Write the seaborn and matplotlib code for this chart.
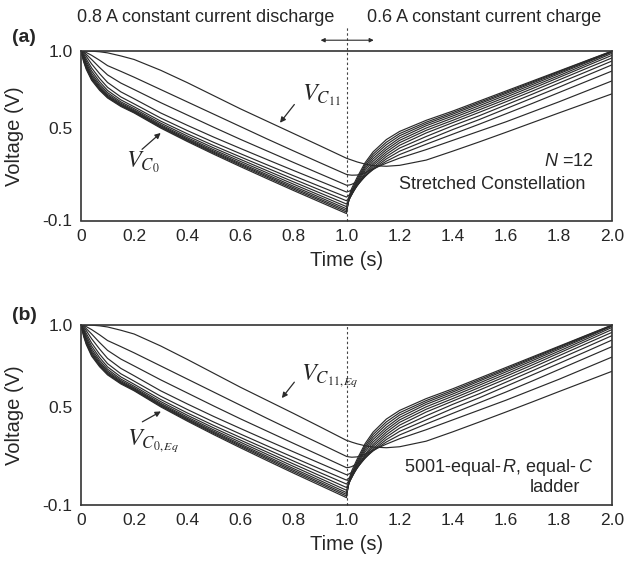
import matplotlib
matplotlib.use("Agg")
import matplotlib.pyplot as plt
import seaborn as sns
import pandas as pd

# ---------------- data ----------------
time_s = [0, 0.01, 0.02, 0.04, 0.07, 0.1, 0.15, 0.2, 0.3, 0.4, 0.5, 0.6, 0.7, 0.8, 0.9, 1.0,
          1.01, 1.02, 1.04, 1.07, 1.1, 1.15, 1.2, 1.3, 1.4, 1.5, 1.6, 1.7, 1.8, 1.9, 2.0]

# panel (a): stretched constellation, N = 12
a_c0 = [1.0, 0.93, 0.88, 0.81, 0.745, 0.695, 0.64, 0.598, 0.5, 0.413, 0.33, 0.25, 0.172, 0.095, 0.02, -0.055,
        0.06, 0.11, 0.18, 0.275, 0.345, 0.425, 0.478, 0.55, 0.61, 0.675, 0.74, 0.805, 0.87, 0.935, 1.0]
a_c1 = [1.0, 0.936, 0.887, 0.817, 0.751, 0.7, 0.645, 0.602, 0.505, 0.419, 0.337, 0.258, 0.181, 0.104, 0.03, -0.045,
        0.048, 0.095, 0.168, 0.262, 0.33, 0.408, 0.464, 0.538, 0.6, 0.666, 0.732, 0.799, 0.866, 0.933, 0.998]
a_c2 = [1.0, 0.942, 0.894, 0.824, 0.757, 0.705, 0.649, 0.606, 0.51, 0.424, 0.343, 0.265, 0.189, 0.113, 0.039, -0.035,
        0.04, 0.085, 0.158, 0.25, 0.315, 0.392, 0.45, 0.527, 0.59, 0.657, 0.724, 0.792, 0.86, 0.928, 0.996]
a_c3 = [1.0, 0.948, 0.901, 0.832, 0.764, 0.711, 0.654, 0.611, 0.515, 0.43, 0.35, 0.273, 0.198, 0.123, 0.05, -0.024,
        0.035, 0.075, 0.148, 0.238, 0.3, 0.375, 0.435, 0.515, 0.578, 0.645, 0.713, 0.782, 0.852, 0.922, 0.993]
a_c4 = [1.0, 0.955, 0.91, 0.842, 0.773, 0.719, 0.661, 0.617, 0.522, 0.438, 0.359, 0.284, 0.21, 0.136, 0.063, -0.01,
        0.035, 0.07, 0.14, 0.225, 0.285, 0.36, 0.42, 0.5, 0.565, 0.632, 0.7, 0.77, 0.84, 0.912, 0.985]
a_c5 = [1.0, 0.963, 0.921, 0.855, 0.785, 0.73, 0.67, 0.626, 0.532, 0.449, 0.371, 0.297, 0.224, 0.151, 0.079, 0.007,
        0.04, 0.068, 0.13, 0.21, 0.27, 0.345, 0.405, 0.485, 0.55, 0.618, 0.686, 0.756, 0.828, 0.9, 0.972]
a_c6 = [1.0, 0.971, 0.934, 0.871, 0.801, 0.744, 0.683, 0.638, 0.545, 0.463, 0.386, 0.313, 0.241, 0.169, 0.098, 0.028,
        0.05, 0.072, 0.125, 0.2, 0.258, 0.33, 0.388, 0.468, 0.535, 0.602, 0.67, 0.74, 0.812, 0.884, 0.955]
a_c7 = [1.0, 0.979, 0.948, 0.89, 0.822, 0.764, 0.702, 0.657, 0.565, 0.484, 0.407, 0.334, 0.262, 0.191, 0.121, 0.052,
        0.065, 0.08, 0.125, 0.19, 0.245, 0.315, 0.37, 0.445, 0.515, 0.58, 0.65, 0.72, 0.792, 0.863, 0.935]
a_c8 = [1.0, 0.988, 0.965, 0.916, 0.853, 0.796, 0.735, 0.69, 0.598, 0.518, 0.441, 0.368, 0.296, 0.225, 0.155, 0.085,
        0.09, 0.1, 0.13, 0.185, 0.235, 0.3, 0.35, 0.42, 0.49, 0.555, 0.625, 0.695, 0.765, 0.838, 0.91]
a_c9 = [1.0, 0.994, 0.978, 0.945, 0.893, 0.845, 0.792, 0.75, 0.665, 0.585, 0.505, 0.427, 0.352, 0.277, 0.203, 0.129,
        0.13, 0.135, 0.152, 0.19, 0.23, 0.285, 0.328, 0.395, 0.46, 0.525, 0.592, 0.66, 0.73, 0.8, 0.87]
a_c10 = [1.0, 0.998, 0.99, 0.972, 0.94, 0.905, 0.868, 0.83, 0.75, 0.67, 0.59, 0.51, 0.43, 0.352, 0.275, 0.199,
         0.196, 0.194, 0.195, 0.21, 0.235, 0.272, 0.305, 0.36, 0.42, 0.48, 0.54, 0.605, 0.67, 0.738, 0.806]
a_c11 = [1.0, 1.0, 1.0, 0.999, 0.995, 0.988, 0.968, 0.945, 0.875, 0.795, 0.71, 0.625, 0.545, 0.465, 0.385, 0.304,
         0.298, 0.292, 0.28, 0.266, 0.256, 0.252, 0.258, 0.292, 0.35, 0.41, 0.472, 0.535, 0.598, 0.66, 0.722]

# panel (b): 5001-equal-R, equal-C ladder (equivalent node voltages)
b_c0 = [1.0, 0.93, 0.88, 0.81, 0.745, 0.695, 0.64, 0.598, 0.5, 0.413, 0.33, 0.25, 0.172, 0.095, 0.02, -0.055,
        0.06, 0.11, 0.18, 0.275, 0.345, 0.425, 0.478, 0.55, 0.61, 0.675, 0.74, 0.805, 0.87, 0.935, 1.0]
b_c1 = [1.0, 0.936, 0.887, 0.817, 0.751, 0.7, 0.645, 0.602, 0.505, 0.419, 0.337, 0.258, 0.181, 0.104, 0.03, -0.045,
        0.048, 0.095, 0.168, 0.262, 0.33, 0.408, 0.464, 0.538, 0.6, 0.666, 0.732, 0.799, 0.866, 0.933, 0.998]
b_c2 = [1.0, 0.942, 0.894, 0.824, 0.757, 0.705, 0.649, 0.606, 0.51, 0.424, 0.343, 0.265, 0.189, 0.113, 0.039, -0.035,
        0.04, 0.085, 0.158, 0.25, 0.315, 0.392, 0.45, 0.527, 0.59, 0.657, 0.724, 0.792, 0.86, 0.928, 0.996]
b_c3 = [1.0, 0.948, 0.901, 0.832, 0.764, 0.711, 0.654, 0.611, 0.515, 0.43, 0.35, 0.273, 0.198, 0.123, 0.05, -0.024,
        0.035, 0.075, 0.148, 0.238, 0.3, 0.375, 0.435, 0.515, 0.578, 0.645, 0.713, 0.782, 0.852, 0.922, 0.993]
b_c4 = [1.0, 0.955, 0.91, 0.842, 0.773, 0.719, 0.661, 0.617, 0.522, 0.438, 0.359, 0.284, 0.21, 0.136, 0.063, -0.01,
        0.035, 0.07, 0.14, 0.225, 0.285, 0.36, 0.42, 0.5, 0.565, 0.632, 0.7, 0.77, 0.84, 0.912, 0.985]
b_c5 = [1.0, 0.963, 0.921, 0.855, 0.785, 0.73, 0.67, 0.626, 0.532, 0.449, 0.371, 0.297, 0.224, 0.151, 0.079, 0.007,
        0.04, 0.068, 0.13, 0.21, 0.27, 0.345, 0.405, 0.485, 0.55, 0.618, 0.686, 0.756, 0.828, 0.9, 0.972]
b_c6 = [1.0, 0.971, 0.934, 0.871, 0.801, 0.744, 0.683, 0.638, 0.545, 0.463, 0.386, 0.313, 0.241, 0.169, 0.098, 0.028,
        0.05, 0.072, 0.125, 0.2, 0.258, 0.33, 0.388, 0.468, 0.535, 0.602, 0.67, 0.74, 0.812, 0.884, 0.955]
b_c7 = [1.0, 0.979, 0.948, 0.89, 0.822, 0.764, 0.702, 0.657, 0.565, 0.484, 0.407, 0.334, 0.262, 0.191, 0.121, 0.052,
        0.065, 0.08, 0.125, 0.19, 0.245, 0.315, 0.37, 0.445, 0.515, 0.58, 0.65, 0.72, 0.792, 0.863, 0.935]
b_c8 = [1.0, 0.988, 0.965, 0.916, 0.853, 0.796, 0.735, 0.69, 0.598, 0.518, 0.441, 0.368, 0.296, 0.225, 0.155, 0.085,
        0.09, 0.1, 0.13, 0.185, 0.235, 0.3, 0.35, 0.42, 0.49, 0.555, 0.625, 0.695, 0.765, 0.836, 0.908]
b_c9 = [1.0, 0.994, 0.978, 0.945, 0.893, 0.845, 0.792, 0.75, 0.665, 0.585, 0.505, 0.427, 0.352, 0.277, 0.203, 0.128,
        0.13, 0.135, 0.152, 0.19, 0.23, 0.285, 0.328, 0.395, 0.46, 0.525, 0.59, 0.658, 0.728, 0.798, 0.868]
b_c10 = [1.0, 0.998, 0.99, 0.972, 0.94, 0.905, 0.868, 0.83, 0.75, 0.67, 0.59, 0.51, 0.43, 0.352, 0.275, 0.197,
         0.194, 0.192, 0.194, 0.21, 0.235, 0.272, 0.305, 0.36, 0.42, 0.48, 0.54, 0.604, 0.668, 0.736, 0.804]
b_c11 = [1.0, 1.0, 1.0, 0.999, 0.995, 0.988, 0.968, 0.945, 0.872, 0.79, 0.705, 0.62, 0.54, 0.46, 0.378, 0.295,
         0.29, 0.284, 0.274, 0.262, 0.254, 0.25, 0.256, 0.29, 0.347, 0.407, 0.468, 0.53, 0.593, 0.655, 0.717]

node_names = [f"C{i}" for i in range(12)]
panel_a = [a_c0, a_c1, a_c2, a_c3, a_c4, a_c5, a_c6, a_c7, a_c8, a_c9, a_c10, a_c11]
panel_b = [b_c0, b_c1, b_c2, b_c3, b_c4, b_c5, b_c6, b_c7, b_c8, b_c9, b_c10, b_c11]

x_ticks = [0, 0.2, 0.4, 0.6, 0.8, 1.0, 1.2, 1.4, 1.6, 1.8, 2.0]
x_tick_labels = ["0", "0.2", "0.4", "0.6", "0.8", "1.0", "1.2", "1.4", "1.6", "1.8", "2.0"]
x_minor = [0.1, 0.3, 0.5, 0.7, 0.9, 1.1, 1.3, 1.5, 1.7, 1.9]
y_ticks = [-0.1, 0.5, 1.0]
y_tick_labels = ["-0.1", "0.5", "1.0"]

# ---------------- style ----------------
sns.set_theme(style="white")
plt.rcParams["font.family"] = ["Liberation Sans", "DejaVu Sans"]
plt.rcParams["mathtext.fontset"] = "custom"
plt.rcParams["mathtext.it"] = "Liberation Sans:italic"
plt.rcParams["mathtext.rm"] = "Liberation Sans"

LINE = "#2a2a2a"
AXC = "#333333"
TXT = "#262626"

W, H = 629, 564
fig = plt.figure(figsize=(W / 100, H / 100), dpi=100)
fig.patch.set_facecolor("white")
ax_a = fig.add_axes([81 / W, 1 - 220.5 / H, 531 / W, 169.5 / H])
ax_b = fig.add_axes([81 / W, 1 - 505 / H, 531 / W, 180 / H])


def draw_panel(ax, curves, top_ext):
    rows = []
    for name, vals in zip(node_names, curves):
        for t, v in zip(time_s, vals):
            rows.append({"time": t, "voltage": v, "node": name})
    df = pd.DataFrame(rows)
    sns.lineplot(data=df, x="time", y="voltage", hue="node",
                 palette={n: LINE for n in node_names}, estimator=None,
                 sort=False, legend=False, linewidth=0.85, ax=ax)
    ax.set_xlim(0, 2.0)
    ax.set_ylim(-0.1, 1.0)
    ax.set_xticks(x_ticks)
    ax.set_xticklabels(x_tick_labels)
    ax.set_xticks(x_minor, minor=True)
    ax.set_yticks(y_ticks)
    ax.set_yticklabels(y_tick_labels)
    ax.tick_params(axis="both", which="major", direction="out", length=4, width=1,
                   color=AXC, labelsize=12.5, labelcolor=TXT, pad=2)
    ax.tick_params(axis="x", which="minor", direction="out", length=3, width=1, color=AXC)
    for sp in ax.spines.values():
        sp.set_visible(True)
        sp.set_color(AXC)
        sp.set_linewidth(1.2)
    ax.set_xlabel("Time (s)", fontsize=14.5, color=TXT, labelpad=5)
    ax.set_ylabel("Voltage (V)", fontsize=14.5, color=TXT)
    ax.yaxis.set_label_coords(-0.107, 0.5)
    ax.axvline(1.0, ymin=0, ymax=(top_ext + 0.1) / 1.1, color="#444444", lw=0.8,
               ls=(0, (2.2, 2.2)), clip_on=False)


draw_panel(ax_a, panel_a, 1.16)
draw_panel(ax_b, panel_b, 1.0)

# panel (a) annotations
ax_a.annotate("", xy=(0.743, 0.52), xytext=(0.81, 0.667),
              arrowprops=dict(arrowstyle="-|>", lw=0.9, color=LINE, mutation_scale=8))
ax_a.text(0.834, 0.714, r"$V_{C_{11}}$", math_fontfamily="stix", fontsize=17.5,
          ha="left", va="center", color=TXT)
ax_a.annotate("", xy=(0.308, 0.48), xytext=(0.222, 0.35),
              arrowprops=dict(arrowstyle="-|>", lw=0.9, color=LINE, mutation_scale=8))
ax_a.text(0.168, 0.28, r"$V_{C_{0}}$", math_fontfamily="stix", fontsize=17.5,
          ha="left", va="center", color=TXT)
ax_a.text(1.93, 0.28, r"$N$ =12", fontsize=13, ha="right", va="center", color=TXT)
ax_a.text(1.90, 0.135, "Stretched Constellation", fontsize=13, ha="right", va="center", color=TXT)
ax_a.annotate("", xy=(0.892, 1.07), xytext=(1.113, 1.07),
              arrowprops=dict(arrowstyle="<|-|>", lw=0.8, color=LINE, mutation_scale=6),
              annotation_clip=False)

# panel (b) annotations
ax_b.annotate("", xy=(0.75, 0.54), xytext=(0.81, 0.664),
              arrowprops=dict(arrowstyle="-|>", lw=0.9, color=LINE, mutation_scale=8))
ax_b.text(0.829, 0.685, r"$V_{C_{11,Eq}}$", math_fontfamily="stix", fontsize=17.5,
          ha="left", va="center", color=TXT)
ax_b.annotate("", xy=(0.31, 0.48), xytext=(0.222, 0.40),
              arrowprops=dict(arrowstyle="-|>", lw=0.9, color=LINE, mutation_scale=8))
ax_b.text(0.172, 0.29, r"$V_{C_{0,Eq}}$", math_fontfamily="stix", fontsize=17.5,
          ha="left", va="center", color=TXT)
ax_b.text(1.93, 0.13, r"5001-equal-$\,R$, equal-$\,C$", fontsize=13, ha="right", va="center", color=TXT)
ax_b.text(1.785, 0.01, "ladder", fontsize=13, ha="center", va="center", color=TXT)

# figure-level texts
fig.text(206 / W, 1 - 18 / H, "0.8 A constant current discharge", fontsize=13,
         ha="center", va="center", color=TXT)
fig.text(484 / W, 1 - 18 / H, "0.6 A constant current charge", fontsize=13,
         ha="center", va="center", color=TXT)
fig.text(24 / W, 1 - 37 / H, "(a)", fontsize=14, fontweight="bold", ha="center", va="center", color=TXT)
fig.text(24 / W, 1 - 315 / H, "(b)", fontsize=14, fontweight="bold", ha="center", va="center", color=TXT)

fig.savefig("out.png", dpi=100, facecolor="white")
